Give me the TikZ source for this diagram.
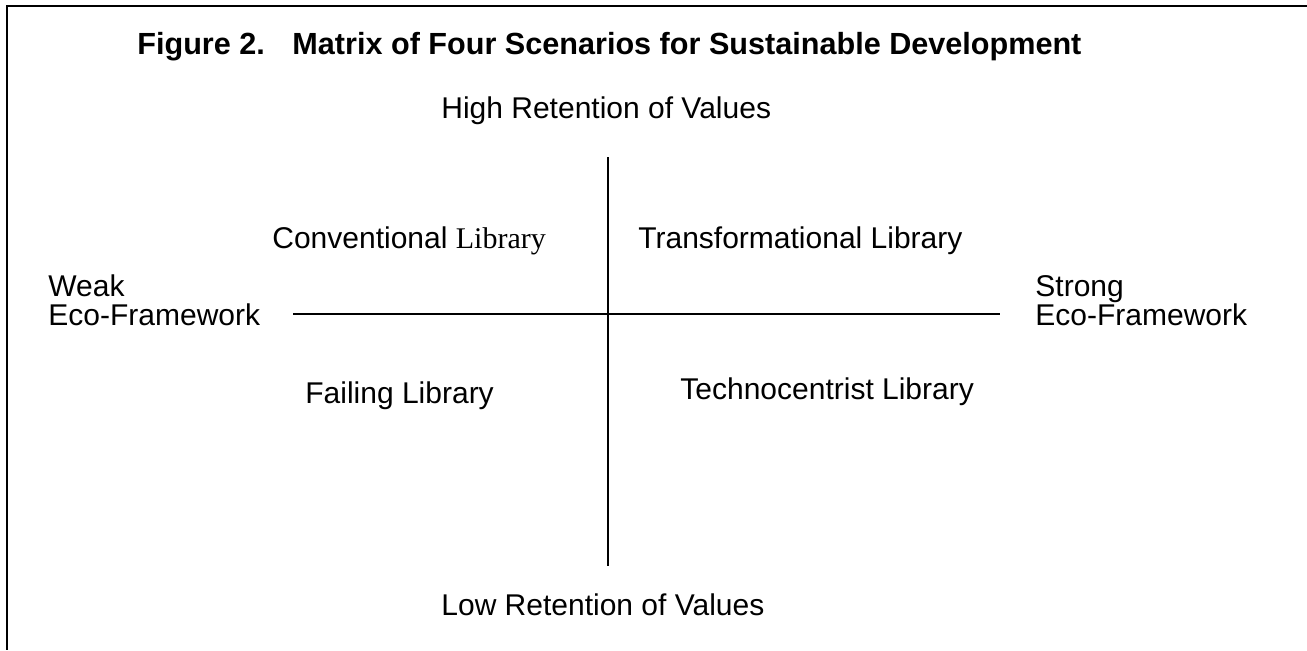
\documentclass[tikz,border=0pt]{standalone}
\usepackage{fontspec}
\setmainfont{Liberation Sans}
\newfontfamily\serifface{Liberation Serif}
\begin{document}
\begin{tikzpicture}[x=0.5pt,y=-0.5pt,
  lbl/.style={inner sep=0pt,anchor=base west,font=\fontsize{15pt}{18pt}\selectfont},
  ttl/.style={inner sep=0pt,anchor=base west,font=\fontsize{15.3pt}{18pt}\selectfont\bfseries},
  axis/.style={line width=0.7pt},
  frame/.style={line width=1pt}]
\useasboundingbox (0,0) rectangle (1307,650);
% page frame: top rule and left rule
\coordinate (ftl) at (7,6);
\coordinate (ftr) at (1307,6);
\coordinate (fbl) at (7,650);
\draw[frame] (ftr) -- (ftl) -- (fbl);
% title
\node[ttl] (title) at (137,54) {Figure 2.\hspace{0.9em}Matrix of Four Scenarios for Sustainable Development};
% axis labels
\node[lbl] (high) at (441,118) {High Retention of Values};
\node[lbl] (low) at (441,615) {Low Retention of Values};
\node[lbl] (weak1) at (48,296) {Weak};
\node[lbl] (weak2) at (48,325) {Eco-Framework};
\node[lbl] (strong1) at (1035,296) {Strong};
\node[lbl] (strong2) at (1035,325) {Eco-Framework};
% quadrant labels
\node[lbl] (conv) at (272,248) {Conventional {\serifface Library}};
\node[lbl] (trans) at (638,248) {Transformational Library};
\node[lbl] (fail) at (305,403) {Failing Library};
\node[lbl] (tech) at (680,399) {Technocentrist Library};
% axes
\coordinate (xl) at (293,314);
\coordinate (xr) at (1000,314);
\coordinate (yt) at (608,157);
\coordinate (yb) at (608,566);
\draw[axis] (xl) -- (xr);
\draw[axis] (yt) -- (yb);
\end{tikzpicture}
\end{document}
